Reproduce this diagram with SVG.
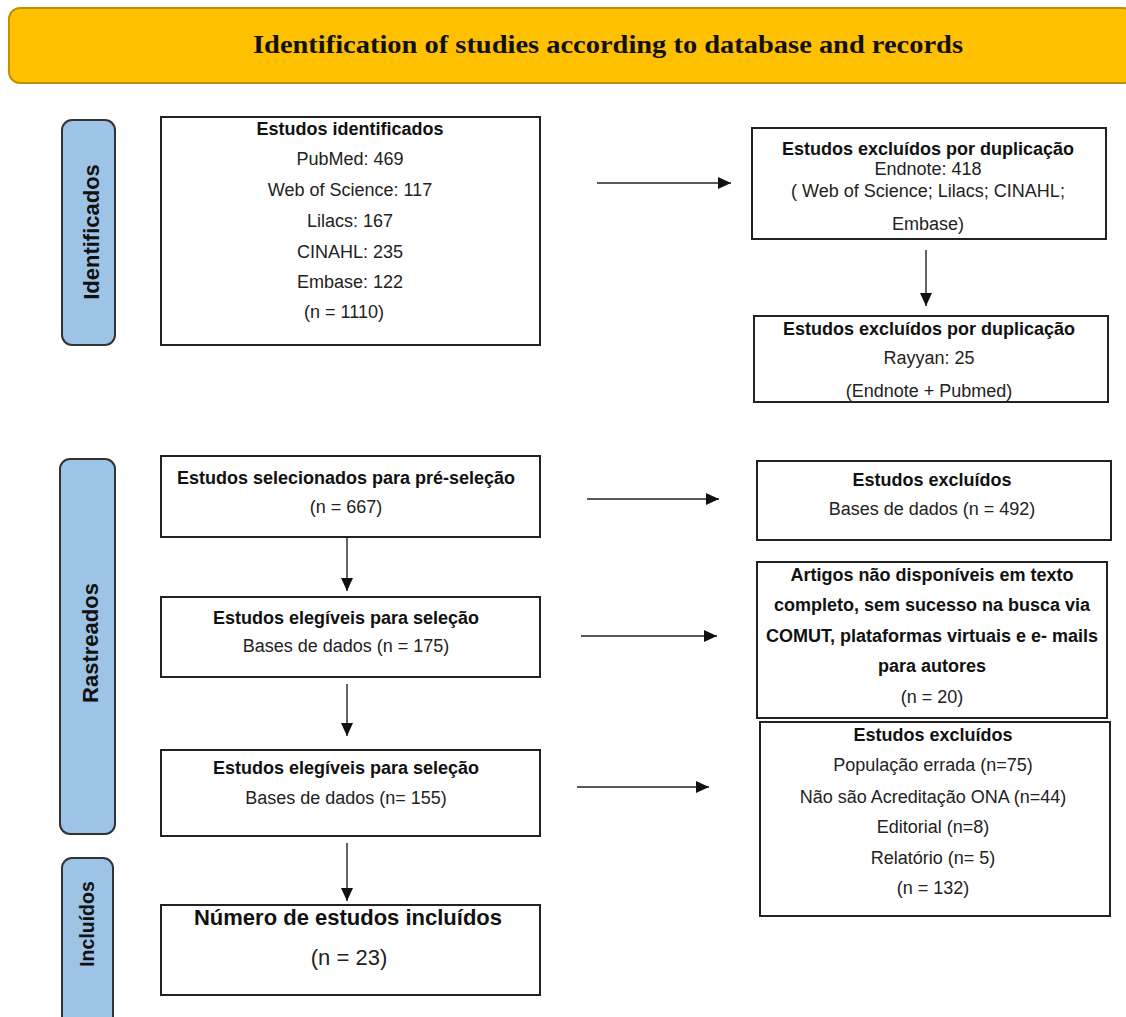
<svg xmlns="http://www.w3.org/2000/svg" width="1126" height="1017" viewBox="0 0 1126 1017">
<defs>
<style>
.box{fill:#fff;stroke:#222;stroke-width:2}
.lab{fill:#9DC3E6;stroke:#333;stroke-width:2}
.t{font-family:"Liberation Sans",Arial,sans-serif;font-size:18px;fill:#222;text-anchor:middle}
.b{font-weight:bold;fill:#111}
.lt{font-family:"Liberation Sans",Arial,sans-serif;font-size:22px;font-weight:bold;fill:#111;text-anchor:middle}
.c{stroke:#222;stroke-width:1.4;fill:none;marker-end:url(#ah)}
</style>
<marker id="ah" markerUnits="userSpaceOnUse" markerWidth="13" markerHeight="12" refX="13" refY="6" orient="auto">
<path d="M0,0 L13,6 L0,12 z" fill="#111"/>
</marker>
</defs>
<rect width="1126" height="1017" fill="#fff"/>
<g id="header">
<rect x="9" y="8" width="1125" height="75" rx="11" fill="#FFC000" stroke="#BF9000" stroke-width="2"/>
<text x="608" y="53" font-family="'Liberation Serif',serif" font-size="25" font-weight="bold" fill="#111" text-anchor="middle" textLength="710" lengthAdjust="spacingAndGlyphs">Identification of studies according to database and records</text>
</g>
<g id="label-identificados">
<rect class="lab" x="62" y="120" width="53" height="225" rx="10"/>
<text class="lt" transform="translate(99,232) rotate(-90)">Identificados</text>
</g>
<g id="label-rastreados">
<rect class="lab" x="60" y="459" width="55" height="375" rx="10"/>
<text class="lt" transform="translate(98,643) rotate(-90)">Rastreados</text>
</g>
<g id="label-incluidos">
<rect class="lab" x="62" y="858" width="51" height="170" rx="10"/>
<text class="lt" transform="translate(94,924) rotate(-90)" style="font-size:19.5px">Incluídos</text>
</g>
<g id="identificados">
<rect class="box" x="161" y="117" width="379" height="228"/>
<text class="t b" x="350" y="135">Estudos identificados</text>
<text class="t" x="350" y="165">PubMed: 469</text>
<text class="t" x="350" y="196">Web of Science: 117</text>
<text class="t" x="350" y="227">Lilacs: 167</text>
<text class="t" x="350" y="258">CINAHL: 235</text>
<text class="t" x="350" y="288">Embase: 122</text>
<text class="t" x="344" y="318">(n = 1110)</text>
</g>
<g id="excl-dup1">
<rect class="box" x="752" y="128" width="354" height="111"/>
<text class="t b" x="928" y="155">Estudos excluídos por duplicação</text>
<text class="t" x="928" y="175">Endnote: 418</text>
<text class="t" x="928" y="197">( Web of Science; Lilacs; CINAHL;</text>
<text class="t" x="928" y="230">Embase)</text>
</g>
<g id="excl-dup2">
<rect class="box" x="754" y="316" width="354" height="86"/>
<text class="t b" x="929" y="335">Estudos excluídos por duplicação</text>
<text class="t" x="929" y="364">Rayyan: 25</text>
<text class="t" x="929" y="397">(Endnote + Pubmed)</text>
</g>
<g id="pre-selecao">
<rect class="box" x="161" y="456" width="379" height="81"/>
<text class="t b" x="346" y="484">Estudos selecionados para pré-seleção</text>
<text class="t" x="346" y="513">(n = 667)</text>
</g>
<g id="elegiveis1">
<rect class="box" x="161" y="597" width="379" height="80"/>
<text class="t b" x="346" y="624">Estudos elegíveis para seleção</text>
<text class="t" x="346" y="652">Bases de dados (n = 175)</text>
</g>
<g id="elegiveis2">
<rect class="box" x="161" y="750" width="379" height="86"/>
<text class="t b" x="346" y="774">Estudos elegíveis para seleção</text>
<text class="t" x="346" y="804">Bases de dados (n= 155)</text>
</g>
<g id="incluidos">
<rect class="box" x="161" y="905" width="379" height="90"/>
<text class="t b" x="348" y="925" style="font-size:22px">Número de estudos incluídos</text>
<text class="t" x="349" y="965" style="font-size:22px">(n = 23)</text>
</g>
<g id="excl-bases">
<rect class="box" x="757" y="461" width="354" height="79"/>
<text class="t b" x="932" y="486">Estudos excluídos</text>
<text class="t" x="932" y="515">Bases de dados (n = 492)</text>
</g>
<g id="artigos-nd">
<rect class="box" x="757" y="562" width="350" height="156"/>
<text class="t b" x="932" y="581">Artigos não disponíveis em texto</text>
<text class="t b" x="932" y="611">completo, sem sucesso na busca via</text>
<text class="t b" x="932" y="642">COMUT, plataformas virtuais e e- mails</text>
<text class="t b" x="932" y="672">para autores</text>
<text class="t" x="932" y="703">(n = 20)</text>
</g>
<g id="excl-criterios">
<rect class="box" x="760" y="722" width="350" height="194"/>
<text class="t b" x="933" y="741">Estudos excluídos</text>
<text class="t" x="933" y="771">População errada (n=75)</text>
<text class="t" x="933" y="803">Não são Acreditação ONA (n=44)</text>
<text class="t" x="933" y="833">Editorial (n=8)</text>
<text class="t" x="933" y="864">Relatório (n= 5)</text>
<text class="t" x="933" y="894">(n = 132)</text>
</g>
<g id="connectors">
<line class="c" x1="597" y1="183" x2="731" y2="183"/>
<line class="c" x1="926" y1="250" x2="926" y2="306"/>
<line class="c" x1="347" y1="537" x2="347" y2="591"/>
<line class="c" x1="347" y1="684" x2="347" y2="736"/>
<line class="c" x1="347" y1="843" x2="347" y2="901"/>
<line class="c" x1="587" y1="499" x2="719" y2="499"/>
<line class="c" x1="581" y1="636" x2="717" y2="636"/>
<line class="c" x1="577" y1="787" x2="709" y2="787"/>
</g>
</svg>
